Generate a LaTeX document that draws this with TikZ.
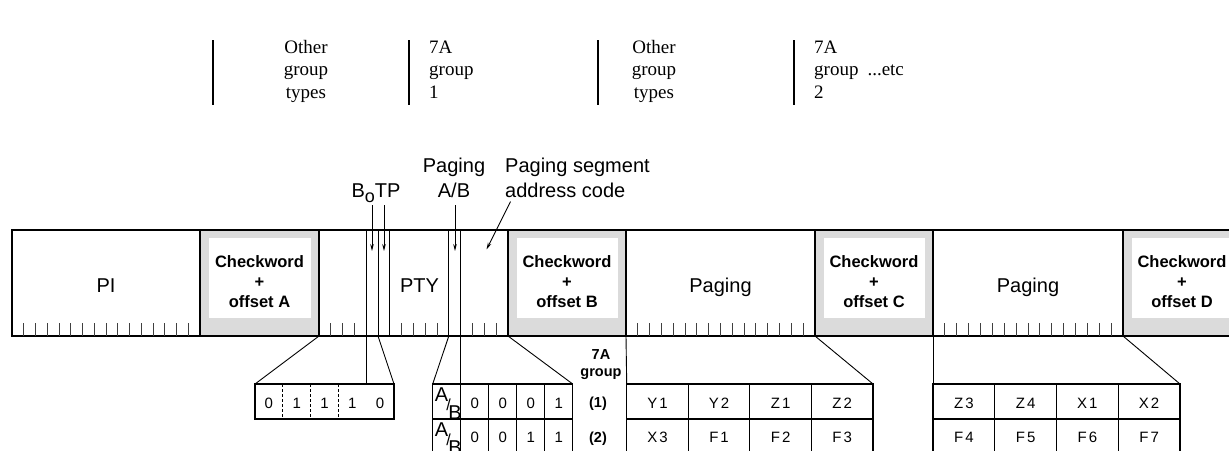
\documentclass[tikz,border=0pt]{standalone}
\usepackage{fontspec}
\setmainfont{Liberation Serif}
\setsansfont{Liberation Sans}
\usetikzlibrary{arrows.meta}
\definecolor{cwgray}{gray}{0.86}
\newcommand{\mystack}[2]{\begin{tabular}[t]{@{}#1@{}}#2\end{tabular}}
\begin{document}
\begin{tikzpicture}[x=1pt,y=-1pt,
  blk/.style={draw, line width=1.8pt, minimum height=106pt, inner sep=0pt, outer sep=0pt, anchor=north west},
  cwblk/.style={blk, fill=cwgray},
  inner/.style={fill=white, minimum height=80pt, inner sep=0pt, outer sep=0pt, anchor=north west},
  tick/.style={line width=0.8pt, black!75},
  vline/.style={line width=0.9pt},
  conn/.style={line width=0.9pt},
  arr/.style={line width=0.9pt, -{Stealth[length=7pt,width=3.6pt]}},
  rowbox/.style={draw, line width=1.3pt, minimum height=35pt, inner sep=0pt, outer sep=0pt, anchor=north west},
  cellline/.style={line width=1.1pt},
  topbar/.style={line width=2.4pt},
  lbl/.style={font=\sffamily\fontsize{20}{25}\selectfont, inner sep=0pt},
  cwt/.style={font=\sffamily\bfseries\fontsize{16.5}{20}\selectfont, inner sep=0pt, anchor=base},
  grp/.style={font=\sffamily\bfseries\fontsize{14.5}{17}\selectfont, inner sep=0pt, anchor=base},
  ct/.style={font=\sffamily\fontsize{15}{17}\selectfont, inner sep=0pt},
  abt/.style={font=\sffamily\fontsize{20}{22}\selectfont, inner sep=0pt, anchor=base},
  abs/.style={font=\sffamily\fontsize{16}{18}\selectfont, inner sep=0pt, anchor=base},
  toptxt/.style={font=\rmfamily\fontsize{19}{22.5}\selectfont, inner sep=0pt}
]
\useasboundingbox (0,0) rectangle (1229,450);

% ---------- top group sequence ----------
\foreach \x in {213,409,598,794} \draw[topbar] (\x,40) -- (\x,105);
\node[toptxt, anchor=base] (og1) at (306,53) {\mystack{c}{Other\\group\\types}};
\node[toptxt, anchor=base west] (g1) at (429,53) {\mystack{l}{7A\\group\\1}};
\node[toptxt, anchor=base] (og2) at (654,53) {\mystack{c}{Other\\group\\types}};
\node[toptxt, anchor=base west] (g2) at (814,53) {\mystack{l}{7A\\group\hspace{9pt}...etc\\2}};

% ---------- main bar ----------
\node[blk, minimum width=188pt] (pi) at (12,230) {};
\node[cwblk, minimum width=119pt] (cwA) at (200,230) {};
\node[blk, minimum width=189pt] (b2) at (319,230) {};
\node[cwblk, minimum width=118pt] (cwB) at (508,230) {};
\node[blk, minimum width=189pt] (pg1) at (626,230) {};
\node[cwblk, minimum width=118pt] (cwC) at (815,230) {};
\node[blk, minimum width=190pt] (pg2) at (933,230) {};
\node[cwblk, minimum width=118pt] (cwD) at (1123,230) {};

\node[inner, minimum width=102pt] (iA) at (208.5,238) {};
\node[inner, minimum width=101pt] (iB) at (516.5,238) {};
\node[inner, minimum width=101pt] (iC) at (823.5,238) {};
\node[inner, minimum width=101pt] (iD) at (1131.5,238) {};
% redraw block borders over inner fills
\foreach \n in {cwA,cwB,cwC,cwD} \draw[line width=1.8pt] (\n.north west) rectangle (\n.south east);

\node[cwt] (tA) at (259.5,267.5) {\mystack{c}{Checkword\\+\\offset A}};
\node[cwt] (tB) at (567,267.5) {\mystack{c}{Checkword\\+\\offset B}};
\node[cwt] (tC) at (874,267.5) {\mystack{c}{Checkword\\+\\offset C}};
\node[cwt] (tD) at (1182,267.5) {\mystack{c}{Checkword\\+\\offset D}};

% ticks
\foreach \k in {1,...,15} \draw[tick] (12+\k*11.75,336) -- (12+\k*11.75,323);
\foreach \k in {1,2,3,7,8,9,10,13,14,15} \draw[tick] (319+\k*11.8,336) -- (319+\k*11.8,323);
\foreach \k in {1,...,15} \draw[tick] (626+\k*11.8,336) -- (626+\k*11.8,323);
\foreach \k in {1,...,15} \draw[tick] (933+\k*11.875,336) -- (933+\k*11.875,323);

\node[lbl, anchor=base] (lpi) at (106,292) {PI};
\node[lbl, anchor=base] (lpty) at (419.5,292) {PTY};
\node[lbl, anchor=base] (lpg1) at (720.5,292) {Paging};
\node[lbl, anchor=base] (lpg2) at (1028,292) {Paging};

% bit lines in block 2
\coordinate (k4t) at (366.2,230);  \coordinate (k4b) at (366.2,384);
\coordinate (k5t) at (378,230);    \coordinate (k5b) at (378,336);
\coordinate (k6t) at (389.8,230);  \coordinate (k6b) at (389.8,336);
\coordinate (k11t) at (448.8,230); \coordinate (k11b) at (448.8,336);
\coordinate (k12t) at (460.6,230); \coordinate (k12b) at (460.6,384);
\draw[vline] (k4t) -- (k4b);
\draw[vline] (k5t) -- (k5b);
\draw[vline] (k6t) -- (k6b);
\draw[vline] (k11t) -- (k11b);
\draw[vline] (k12t) -- (k12b);

% ---------- labels with arrows ----------
\node[lbl, anchor=base] (lbotp) at (376,197) {B\raisebox{-5pt}{\fontsize{18}{20}\selectfont o}TP};
\node[lbl, anchor=base] (lpab) at (454,172) {\mystack{c}{Paging\\A/B}};
\node[lbl, anchor=base west] (lseg) at (505,172) {\mystack{l}{Paging segment\\address code}};
\coordinate (a1s) at (372,205);   \coordinate (a1e) at (372,251);
\coordinate (a2s) at (384,205);   \coordinate (a2e) at (384,251);
\coordinate (a3s) at (455,205);   \coordinate (a3e) at (455,251);
\coordinate (a4s) at (510.5,201.5); \coordinate (a4e) at (486.5,249.5);
\draw[arr] (a1s) -- (a1e);
\draw[arr] (a2s) -- (a2e);
\draw[arr] (a3s) -- (a3e);
\draw[arr] (a4s) -- (a4e);

% ---------- bit box (group type + B0) ----------
\node[rowbox, minimum width=139pt] (boxA) at (255,384) {};
\foreach \x in {282.8,310.6,338.4} \draw[cellline, dashed, dash pattern=on 3pt off 2pt] (\x,384) -- (\x,419);
\foreach \t [count=\i from 0] in {0,1,1,1,0}
  \node[ct] (bA\i) at (268.9+\i*27.8,403) {\t};
\draw[conn] (cwA.south east) -- (boxA.north west);
\draw[conn] (k5b) -- (boxA.north east);

% ---------- A/B box ----------
\node[rowbox, minimum width=140pt] (ab1) at (432.7,384) {};
\node[rowbox, minimum width=140pt] (ab2) at (432.7,419) {};
\foreach \x in {460.7,488.7,516.7,544.7} \draw[cellline] (\x,384) -- (\x,454);
\foreach \r/\y in {1/0,2/35} {
  \node[abt] (abA\r) at (441.5,401+\y) {A};
  \node[abs] (abS\r) at (448.5,410+\y) {/};
  \node[abt] (abB\r) at (455,419+\y) {B};
}
\foreach \t [count=\i from 1] in {0,0,0,1} \node[ct] (ab1c\i) at (446.7+\i*28,403) {\t};
\foreach \t [count=\i from 1] in {0,0,1,1} \node[ct] (ab2c\i) at (446.7+\i*28,437.5) {\t};
\draw[conn] (k11b) -- (ab1.north west);
\draw[conn] (cwB.south west) -- (ab1.north east);

\node[grp] (g7a) at (601,359) {\mystack{c}{7A\\group}};
\node[grp] (n1) at (598,407.5) {(1)};
\node[grp] (n2) at (598,442) {(2)};

% ---------- tables ----------
\node[rowbox, minimum width=246.3pt] (t1r1) at (626.7,384) {};
\node[rowbox, minimum width=246.3pt] (t1r2) at (626.7,419) {};
\foreach \i in {1,2,3} \draw[cellline] (626.7+\i*61.575,384) -- (626.7+\i*61.575,454);
\foreach \t [count=\i from 0] in {Y\kern2pt1,Y\kern2pt2,Z\kern2pt1,Z\kern2pt2}
  \node[ct] (t1a\i) at (657.5+\i*61.575,403) {\t};
\foreach \t [count=\i from 0] in {X\kern2pt3,F\kern2pt1,F\kern2pt2,F\kern2pt3}
  \node[ct] (t1b\i) at (657.5+\i*61.575,437.5) {\t};

\node[rowbox, minimum width=247pt] (t2r1) at (933,384) {};
\node[rowbox, minimum width=247pt] (t2r2) at (933,419) {};
\foreach \i in {1,2,3} \draw[cellline] (933+\i*61.75,384) -- (933+\i*61.75,454);
\foreach \t [count=\i from 0] in {Z\kern2pt3,Z\kern2pt4,X\kern2pt1,X\kern2pt2}
  \node[ct] (t2a\i) at (963.9+\i*61.75,403) {\t};
\foreach \t [count=\i from 0] in {F\kern2pt4,F\kern2pt5,F\kern2pt6,F\kern2pt7}
  \node[ct] (t2b\i) at (963.9+\i*61.75,437.5) {\t};

\draw[conn] (pg1.south west) -- (t1r1.north west);
\draw[conn] (pg1.south east) -- (t1r1.north east);
\draw[conn] (pg2.south west) -- (t2r1.north west);
\draw[conn] (pg2.south east) -- (t2r1.north east);
\end{tikzpicture}
\end{document}
